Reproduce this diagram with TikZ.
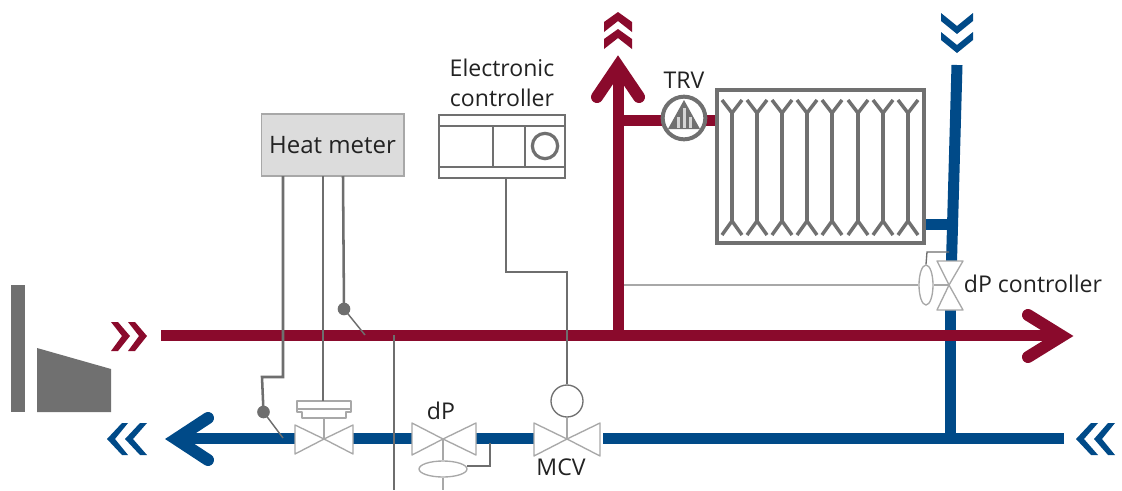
\documentclass[tikz,border=0pt]{standalone}
\usepackage{fontspec}
\usetikzlibrary{shapes.geometric}
\setmainfont{Open Sans}
\definecolor{pipered}{HTML}{8A0A2C}
\definecolor{pipeblue}{HTML}{004A88}
\definecolor{fixgray}{HTML}{707070}
\definecolor{wiregray}{HTML}{6E6E6E}
\definecolor{valvegray}{HTML}{A8A8A8}
\definecolor{metergray}{HTML}{DCDCDC}
\definecolor{labelink}{HTML}{222222}
\tikzset{
  redpipe/.style={draw=pipered,line width=8.25pt},
  bluepipe/.style={draw=pipeblue,line width=8.25pt},
  headred/.style={draw=pipered,line width=9pt,line cap=round,miter limit=10},
  headblue/.style={draw=pipeblue,line width=9pt,line cap=round,miter limit=10},
  wire/.style={draw=wiregray,line width=1.9pt},
  thinwire/.style={draw=valvegray,line width=1pt},
  valve/.style={draw=valvegray,line width=1pt,fill=white,line join=round},
  dot/.style={circle,fill=wiregray,inner sep=0pt,minimum size=9.5pt},
  lbl/.style={text=labelink,font=\fontsize{17.3}{22.5}\selectfont,inner sep=0pt,align=center},
  channel/.style={draw=fixgray,line width=2.6pt},
}
\begin{document}
\begin{tikzpicture}[x=0.75pt,y=-0.75pt]
\useasboundingbox (0,0) rectangle (1122,490);
\fill[white] (0,0) rectangle (1122,490);

% named points
\coordinate (redstart) at (161,335);
\coordinate (redend) at (1062,335);
\coordinate (risertee) at (618,335);
\coordinate (risertop) at (618,66);
\coordinate (branchtee) at (618,120);
\coordinate (radin) at (717,120);
\coordinate (bluestart) at (1064,438);
\coordinate (blueend) at (176,438);
\coordinate (bluetop) at (957,65);
\coordinate (bluemid) at (951.5,262);
\coordinate (bluelow) at (950,310);
\coordinate (bluetee) at (950,438);
\coordinate (radoutA) at (924,224);
\coordinate (radoutB) at (952,224);

% boiler
\fill[fixgray] (11,285) rectangle (25,412);
\fill[fixgray] (37,348) -- (111,369) -- (111,412) -- (37,412) -- cycle;

% chevrons
\fill[pipered] (111,322) -- (118,322) -- (130,336) -- (118,351) -- (111,351) -- (122,336) -- cycle;
\fill[pipered] (128,322) -- (135,322) -- (147,336) -- (135,351) -- (128,351) -- (139,336) -- cycle;
\fill[pipeblue] (122,423) -- (128,423) -- (115,439) -- (128,455) -- (122,455) -- (107,439) -- cycle;
\fill[pipeblue] (140,423) -- (147,423) -- (133,439) -- (147,455) -- (140,455) -- (125,439) -- cycle;
\fill[pipeblue] (1091,423) -- (1098,423) -- (1084,439) -- (1098,455) -- (1091,455) -- (1076,439) -- cycle;
\fill[pipeblue] (1108,423) -- (1115,423) -- (1102,439) -- (1115,455) -- (1108,455) -- (1094,439) -- cycle;
\fill[pipered] (604,22) -- (618,12) -- (632,22) -- (632,32) -- (618,21) -- (604,32) -- cycle;
\fill[pipered] (604,39) -- (618,29) -- (632,39) -- (632,49) -- (618,38) -- (604,49) -- cycle;
\fill[pipeblue] (941,13) -- (957,26) -- (973,13) -- (973,21) -- (957,34) -- (941,21) -- cycle;
\fill[pipeblue] (941,32) -- (957,45) -- (973,32) -- (973,40) -- (957,53) -- (941,40) -- cycle;

% blue pipes
\draw[bluepipe] (bluestart) -- (603,438);
\draw[bluepipe] (534,438) -- (476,438);
\draw[bluepipe] (412,438) -- (353,438);
\draw[bluepipe] (295,438) -- (blueend);
\draw[headblue] (208,418) -- (176,439) -- (208,460);
\draw[bluepipe] (bluetop) -- (bluemid);
\draw[bluepipe] (bluelow) -- (bluetee);
\draw[bluepipe] (radoutA) -- (radoutB);

% red pipes (over the blue riser)
\draw[redpipe] (redstart) -- (redend);
\draw[headred] (1028,315) -- (1062,336) -- (1028,357);
\draw[redpipe] (risertee) -- (risertop);
\draw[headred] (597,97) -- (618,66) -- (639,97);
\draw[redpipe] (branchtee) -- (radin);

% radiator
\draw[draw=fixgray,line width=2.6pt,fill=white] (717,90) rectangle (924,243);
\foreach \x in {732,757,782,807,832,858,883,908}{
  \draw[channel] (\x,113) -- (\x,221);
  \draw[channel] (\x-10,100) -- (\x,113) -- (\x+10,100);
  \draw[channel] (\x-10,235) -- (\x,221) -- (\x+10,235);
}

% TRV
\node[circle,draw=fixgray,line width=3pt,fill=white,minimum size=32pt,inner sep=0pt] (trv) at (684,118) {};
\fill[fixgray] (684,100) -- (700,129) -- (668,129) -- cycle;
\fill[white!70!fixgray] (677,117) rectangle (680,128);
\fill[white!70!fixgray] (683,108) rectangle (686,128);
\fill[white!70!fixgray] (689,117) rectangle (692,128);
\node[lbl] (trvlabel) at (684,80) {TRV};

% heat meter
\node[draw=valvegray,line width=1pt,fill=metergray,minimum width=107pt,minimum height=46.5pt,inner sep=0pt,text=labelink,font=\fontsize{18}{22}\selectfont] (meter) at (332.5,145) {Heat meter};

% electronic controller
\node[draw=fixgray,line width=1.2pt,fill=white,minimum width=94.5pt,minimum height=47.25pt,inner sep=0pt] (ctrl) at (502,146.5) {};
\draw[draw=fixgray,line width=1.2pt] (439,126) -- (565,126) (439,167) -- (565,167) (493,126) -- (493,167) (525,126) -- (525,167);
\node[circle,draw=fixgray,line width=2.4pt,minimum size=19pt,inner sep=0pt] (knob) at (545,146) {};
\node[lbl] (ctrllabel) at (502,83) {Electronic\\controller};

% valves
\coordinate (vA) at (324,439);
\coordinate (vB) at (443,439);
\coordinate (vC) at (567,439);
\coordinate (vD) at (949,285);
\draw[valve] (295,425) -- (vA) -- (295,454) -- cycle;
\draw[valve] (353,425) -- (vA) -- (353,454) -- cycle;
\draw[valve] (412,423) -- (vB) -- (412,455) -- cycle;
\draw[valve] (476,423) -- (vB) -- (476,455) -- cycle;
\draw[valve] (534,423) -- (vC) -- (534,456) -- cycle;
\draw[valve] (600,423) -- (vC) -- (600,456) -- cycle;
\draw[valve] (937,261) -- (vD) -- (963,261) -- cycle;
\draw[valve] (937,310) -- (vD) -- (963,310) -- cycle;

% valve A actuator
\coordinate (actA) at (324,418);
\draw[thinwire] (vA) -- (actA);
\draw[valve] (297,401) -- (351,401) -- (351,412) -- (346,412) -- (346,418) -- (302,418) -- (302,412) -- (297,412) -- cycle;
\draw[thinwire] (297,409) -- (351,409);

% dP valve diaphragm
\node[ellipse,draw=valvegray,line width=1pt,fill=white,minimum width=36pt,minimum height=12pt,inner sep=0pt] (dpdia) at (443,469) {};
\draw[thinwire] (vB) -- (dpdia.north);
\coordinate (dpbottom) at (443,490);
\draw[thinwire] (dpdia.south) -- (dpbottom);
\coordinate (dpbend) at (490,466);
\coordinate (dptap) at (490,443);
\draw[wire,line width=1.1pt] (467,466) -- (dpbend) -- (dptap);
\node[lbl] (dplabel) at (441,411) {dP};

% MCV actuator
\node[circle,draw=fixgray,line width=1pt,fill=white,minimum size=24pt,inner sep=0pt] (mcvhead) at (567,401) {};
\draw[thinwire] (vC) -- (mcvhead.south);
\node[lbl] (mcvlabel) at (561,467) {MCV};

% dP controller
\node[ellipse,draw=valvegray,line width=1pt,fill=white,minimum width=10.5pt,minimum height=30pt,inner sep=0pt] (dpc) at (926,285) {};
\draw[thinwire] (vD) -- (dpc.east);
\coordinate (dpcleft) at (624,285);
\draw[thinwire] (dpc.west) -- (dpcleft);
\coordinate (dpca) at (927,252);
\coordinate (dpcb) at (949,252);
\draw[draw=wiregray,line width=1pt] (dpc.north) -- (dpca) -- (dpcb);
\node[lbl] (dpclabel) at (1033,284) {dP controller};

% wires
\coordinate (wA1) at (283,377);
\coordinate (wA2) at (262,377);
\node[dot] (sA) at (263.5,412) {};
\coordinate (tipA) at (283,438);
\draw[wire] (283,176) -- (wA1) -- (wA2) -- (sA.center);
\draw[wire,line width=1.1pt] (sA.center) -- (tipA);
\coordinate (wB) at (323,401);
\draw[wire] (323,176) -- (wB);
\node[dot] (sB) at (344,309) {};
\coordinate (tipB) at (365,335);
\draw[wire] (343,176) -- (sB.center);
\draw[wire,line width=1.1pt] (sB.center) -- (tipB);
\coordinate (supA) at (394,335);
\coordinate (supB) at (394,490);
\draw[wire] (supA) -- (supB);
\coordinate (cwA) at (506,272);
\coordinate (cwB) at (567,272);
\draw[wire] (506,178) -- (cwA) -- (cwB) -- (mcvhead.north);
\end{tikzpicture}
\end{document}
